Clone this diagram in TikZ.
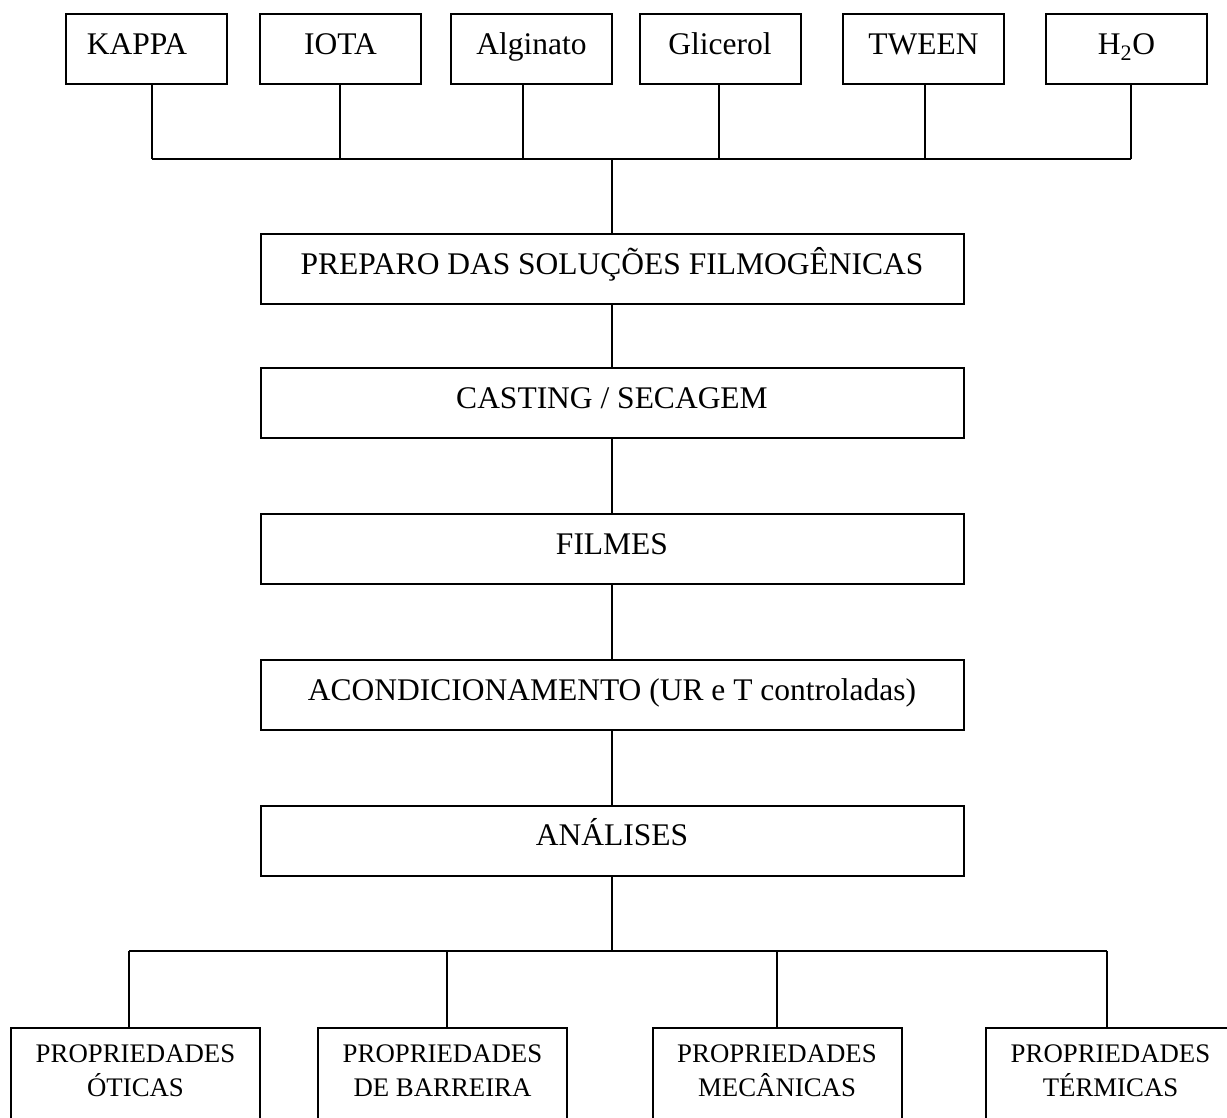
\documentclass[tikz,border=0pt]{standalone}
\usepackage{fontspec}
\setmainfont{Liberation Serif}
\begin{document}
\begin{tikzpicture}[x=1pt,y=-1pt,
  ln/.style={line width=2pt},
  box/.style={draw, ln, rectangle, inner sep=0pt, font=\fontsize{31.5}{37}\selectfont, text height=21pt, text depth=10.5pt},
  topbox/.style={box, minimum width=161pt, minimum height=70pt},
  midbox/.style={box, minimum width=703pt, minimum height=70pt},
  pbox/.style={draw, ln, rectangle, inner sep=0pt, minimum width=249pt, minimum height=100pt},
  ptext/.style={inner sep=0pt, align=center, font=\fontsize{26.8}{34}\selectfont}]
\useasboundingbox (0,0) rectangle (1227,1118);
% top ingredient boxes
\node[topbox] (k) at (146,49) {KAPPA\hspace*{18pt}};
\node[topbox] (i) at (340.5,49) {IOTA};
\node[topbox] (a) at (531.5,49) {Alginato};
\node[topbox] (g) at (720,49) {Glicerol};
\node[topbox] (t) at (923.5,49) {TWEEN};
\node[topbox] (h) at (1126.5,49) {H\textsubscript{2}O};
% process boxes
\node[midbox] (p1) at (612,269) {PREPARO DAS SOLUÇÕES FILMOGÊNICAS};
\node[midbox] (p2) at (612,403) {CASTING / SECAGEM};
\node[midbox] (p3) at (612,549) {FILMES};
\node[midbox] (p4) at (612,695) {ACONDICIONAMENTO (UR e T controladas)};
\node[midbox] (p5) at (612,840.5) {ANÁLISES};
% property boxes
\node[pbox] (o) at (135.5,1078) {};
\node[pbox] (b) at (442.5,1078) {};
\node[pbox] (m) at (777,1078) {};
\node[pbox] (tm) at (1110.5,1078) {};
\node[ptext] (ot) at (135.5,1071) {PROPRIEDADES\\ÓTICAS};
\node[ptext] (bt) at (442.5,1071) {PROPRIEDADES\\DE BARREIRA};
\node[ptext] (mt) at (777,1071) {PROPRIEDADES\\MECÂNICAS};
\node[ptext] (tt) at (1110.5,1071) {PROPRIEDADES\\TÉRMICAS};
% top bus
\coordinate (jk) at (152,159);
\coordinate (ji) at (340,159);
\coordinate (ja) at (523,159);
\coordinate (jg) at (719,159);
\coordinate (jt) at (925,159);
\coordinate (jh) at (1131,159);
\coordinate (jc) at (612,159);
\draw[ln] (jk |- k.south) -- (jk);
\draw[ln] (ji |- i.south) -- (ji);
\draw[ln] (ja |- a.south) -- (ja);
\draw[ln] (jg |- g.south) -- (jg);
\draw[ln] (jt |- t.south) -- (jt);
\draw[ln] (jh |- h.south) -- (jh);
\draw[ln] (jk) -- (jh);
\draw[ln] (jc) -- (p1.north);
% process chain
\draw[ln] (p1.south) -- (p2.north);
\draw[ln] (p2.south) -- (p3.north);
\draw[ln] (p3.south) -- (p4.north);
\draw[ln] (p4.south) -- (p5.north);
% bottom bus
\coordinate (bc) at (612,951);
\coordinate (bo) at (129,951);
\coordinate (bb) at (447,951);
\coordinate (bm) at (777,951);
\coordinate (btm) at (1107,951);
\draw[ln] (p5.south) -- (bc);
\draw[ln] (bo) -- (btm);
\draw[ln] (bo) -- (bo |- o.north);
\draw[ln] (bb) -- (bb |- b.north);
\draw[ln] (bm) -- (bm |- m.north);
\draw[ln] (btm) -- (btm |- tm.north);
\end{tikzpicture}
\end{document}
